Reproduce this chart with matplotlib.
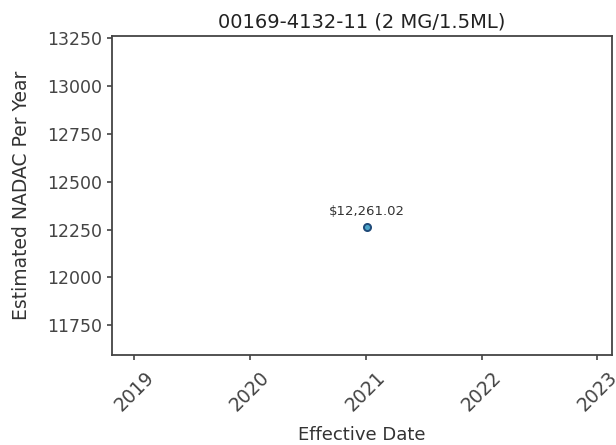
import pandas as pd
import matplotlib
matplotlib.use("Agg")
import matplotlib.pyplot as plt
import matplotlib.dates as mdates

# data ---------------------------------------------------------------
TITLE       = "00169-4132-11 (2 MG/1.5ML)"
dates       = pd.to_datetime(["2021-01-04"])
nadac_year  = [12261.02]
labels      = ["$12,261.02"]

# figure -------------------------------------------------------------
fig = plt.figure(figsize=(6.16, 4.45), dpi=100)
ax = fig.add_axes([112/616, 1-355/445, (612-112)/616, (355-36)/445])

ax.scatter(dates, nadac_year, s=26, facecolor="#4aa3c8",
           edgecolor="#1f4a78", linewidth=1.4, zorder=3)
for d, v, t in zip(dates, nadac_year, labels):
    ax.annotate(t, (d, v), xytext=(0, 7), textcoords="offset points",
                ha="center", va="bottom", fontsize=9.5, color="#333333")

ax.set_xlim(pd.Timestamp("2018-10-23"), pd.Timestamp("2023-02-16"))
ax.set_ylim(11595, 13260)
ax.set_yticks([11750, 12000, 12250, 12500, 12750, 13000, 13250])
ax.xaxis.set_major_locator(mdates.YearLocator())
ax.xaxis.set_major_formatter(mdates.DateFormatter("%Y"))

ax.tick_params(axis="both", colors="#444444", width=1.2)
ax.tick_params(axis="y", labelsize=12.5)
ax.tick_params(axis="x", labelsize=13.5, pad=6)
plt.setp(ax.get_xticklabels(), rotation=45)
for s in ax.spines.values():
    s.set_color("#444444")
    s.set_linewidth(1.3)

ax.set_title(TITLE, fontsize=14, color="#222222")
ax.set_xlabel("Effective Date", fontsize=13, color="#333333", labelpad=8)
ax.set_ylabel("Estimated NADAC Per Year", fontsize=13.5, color="#333333",
              labelpad=12)

fig.savefig("out.png", dpi=100)
